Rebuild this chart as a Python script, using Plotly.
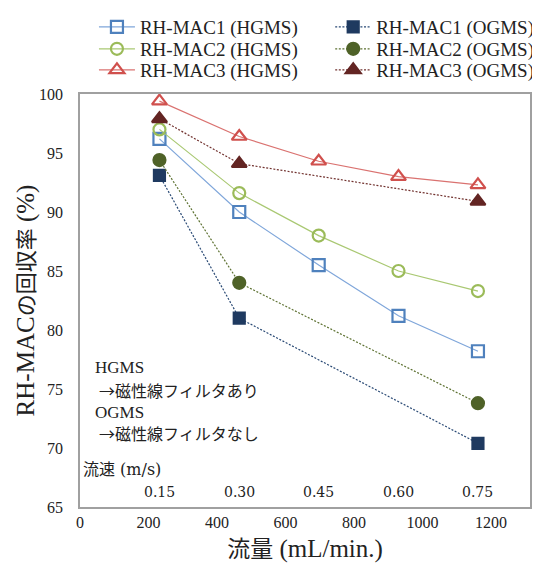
import plotly.graph_objects as go

# ---- data ----
flow_all = [232, 465, 697, 930, 1162]          # mL/min
flow_og = [232, 465, 1162]
velocity_labels = ["0.15", "0.30", "0.45", "0.60", "0.75"]

mac1_hgms = [96.2, 90.0, 85.5, 81.2, 78.2]
mac2_hgms = [97.0, 91.6, 88.0, 85.0, 83.3]
mac3_hgms = [99.4, 96.4, 94.3, 93.0, 92.3]
mac1_ogms = [93.1, 81.0, 70.4]
mac2_ogms = [94.4, 84.0, 73.8]
mac3_ogms = [97.9, 94.1, 90.9]

x_ticks = [0, 200, 400, 600, 800, 1000, 1200]
y_ticks = [65, 70, 75, 80, 85, 90, 95, 100]

SERIF = "Liberation Serif, Times New Roman, serif"
CJK = "Noto Sans CJK JP"

fig = go.Figure()

# legend slots: (column x in paper, row y in paper)
COL = [0.031, 0.556]
ROW = [1.162, 1.109, 1.058]

legend_layout = {}
def add(x, y, name, color, lcolor, symbol, dash, size, col, row, idx):
    key = "legend" if idx == 1 else f"legend{idx}"
    fig.add_trace(go.Scatter(
        x=x, y=y, name=name, mode="lines+markers", legend=key,
        line=dict(color=lcolor, width=1.2, dash=dash),
        marker=dict(symbol=symbol, size=size, color=color,
                    line=dict(color=color, width=2.2)),
    ))
    legend_layout[key] = dict(x=COL[col], y=ROW[row], xanchor="left", yanchor="middle",
                              font=dict(family=SERIF, size=19, color="#222"),
                              bgcolor="rgba(0,0,0,0)", itemwidth=36)

FINE_DOT = "2px,1.6px"
add(flow_all, mac1_hgms, "RH-MAC1 (HGMS)", "#4F81BD", "#7FA6DA", "square-open", "solid", 12, 0, 0, 1)
add(flow_all, mac2_hgms, "RH-MAC2 (HGMS)", "#9BBB59", "#A9C872", "circle-open", "solid", 12, 0, 1, 2)
add(flow_all, mac3_hgms, "RH-MAC3 (HGMS)", "#D0504D", "#DA7270", "triangle-up-open", "solid", 13, 0, 2, 3)
add(flow_og, mac1_ogms, "RH-MAC1 (OGMS)", "#1F3A60", "#2A4A75", "square", FINE_DOT, 11, 1, 0, 4)
add(flow_og, mac2_ogms, "RH-MAC2 (OGMS)", "#4F6228", "#5E7233", "circle", FINE_DOT, 12, 1, 1, 5)
add(flow_og, mac3_ogms, "RH-MAC3 (OGMS)", "#632523", "#723330", "triangle-up", FINE_DOT, 13, 1, 2, 6)

# velocity labels inside plot
for fx, lab in zip(flow_all, velocity_labels):
    fig.add_annotation(x=fx, y=66.3, xref="x", yref="y", text=lab, showarrow=False,
                       font=dict(family="DejaVu Serif, serif", size=14, color="#222"),
                       xanchor="center", yanchor="middle")

notes = [
    (38, 76.86, "HGMS", SERIF, 17),
    (50, 74.9, "→磁性線フィルタあり", CJK, 16),
    (38, 73.05, "OGMS", SERIF, 17),
    (50, 71.27, "→磁性線フィルタなし", CJK, 16),
]
for nx, ny, t, fam, sz in notes:
    fig.add_annotation(x=nx, y=ny, xref="x", yref="y", text=t, showarrow=False,
                       font=dict(family=fam, size=sz, color="#222"),
                       xanchor="left", yanchor="middle")
fig.add_annotation(x=4, y=68.3, xref="x", yref="y",
                   text="<span style='font-family:Noto Sans CJK JP'>流速</span> (m/s)",
                   showarrow=False, font=dict(family="DejaVu Serif, serif", size=16, color="#222"),
                   xanchor="left", yanchor="middle")

# page body has an 8px margin: figure is sized/margined to compensate
fig.update_layout(
    width=532, height=556,
    margin=dict(l=72, r=10, t=86, b=57, autoexpand=False),
    plot_bgcolor="white", paper_bgcolor="white",
    font=dict(family=SERIF, color="#222"),
    showlegend=True,
    xaxis=dict(range=[0, 1314], tickvals=x_ticks, ticktext=[str(v) for v in x_ticks],
               showgrid=False, zeroline=False, showline=True, linecolor="#A0A0A0",
               linewidth=1.5, mirror=True, ticks="", automargin=False,
               tickfont=dict(family=SERIF, size=16, color="#222"),
               title=dict(text="<span style='font-family:Noto Sans CJK JP;font-size:23px'>流量</span> (mL/min.)",
                          font=dict(family=SERIF, size=25, color="#222"), standoff=8)),
    yaxis=dict(range=[65, 100], tickvals=y_ticks, showgrid=False, zeroline=False,
               showline=True, linecolor="#A0A0A0", linewidth=1.5, mirror=True,
               ticks="outside", ticklen=12, tickcolor="rgba(0,0,0,0)", automargin=False,
               tickfont=dict(family=SERIF, size=16, color="#222"),
               title=dict(text="RH-MAC<span style='font-family:Noto Sans CJK JP;font-size:22px'>の回収率</span> (%)",
                          font=dict(family=SERIF, size=25, color="#222"), standoff=8)),
    **legend_layout,
)

fig.write_html("out.html")
